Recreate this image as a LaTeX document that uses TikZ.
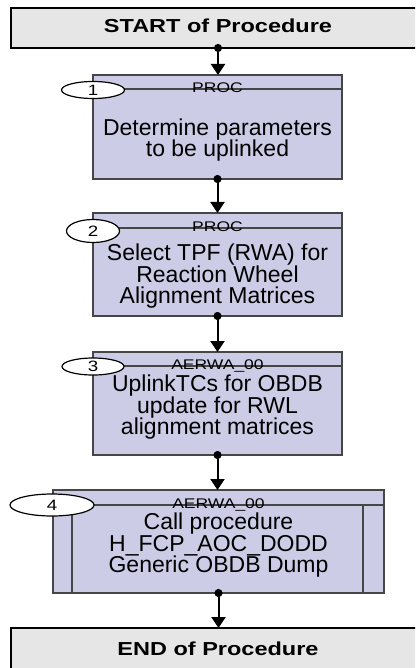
\documentclass[tikz,border=0pt]{standalone}
\usepackage{fontspec}
\setmainfont{Liberation Sans}
\newfontfamily\widefont{Liberation Sans}[FakeStretch=1.25]
\usetikzlibrary{shapes.geometric,arrows.meta,positioning}
\definecolor{procfill}{RGB}{204,204,230}
\definecolor{endfill}{RGB}{230,230,230}
\definecolor{procline}{RGB}{70,70,70}
\newcommand\stepfont{\fontsize{23}{21.5}\selectfont\setlength{\lineskiplimit}{-20pt}}

\begin{document}
\begin{tikzpicture}[x=1pt, y=-1pt,
	endbox/.style = {draw=black, line width=1.5pt, fill=endfill, minimum width=414pt, inner sep=0pt, outer sep=0pt},
	procbox/.style = {draw=procline, line width=1.2pt, fill=procfill, minimum width=249pt, minimum height=103pt, inner sep=0pt, outer sep=0pt},
	numoval/.style = {ellipse, draw=black, line width=1.2pt, fill=white, inner sep=0pt, font=\widefont\fontsize{15}{16}\selectfont},
	hdr/.style = {anchor=base, inner sep=0pt, font=\widefont\fontsize{14}{15}\selectfont},
	bodytext/.style = {align=center, inner sep=0pt, font=\stepfont},
	titletext/.style = {anchor=base, inner sep=0pt, font=\widefont\bfseries\fontsize{18.8}{20}\selectfont},
	flow/.style = {line width=2pt, {Circle[length=8pt]}-{Triangle[length=11pt,width=14pt]}, shorten <=-4pt}]
	\useasboundingbox (0,0) rectangle (415,668);
	\clip (0,0) rectangle (415,668);
	% start and end
	\node[endbox, minimum height=40pt] (start) at (218,28) {};
	\node[titletext] (starttxt) at (218,32.5) {START of Procedure};
	\node[endbox, minimum height=44pt] (end) at (218,650) {};
	\node[titletext] (endtxt) at (218,655) {END of Procedure};
	% steps
	\node[procbox, minimum height=104pt] (p1) at (217.5,127) {};
	\node[procbox] (p2) at (217.5,264.5) {};
	\node[procbox] (p3) at (217.5,403.5) {};
	\node[procbox, minimum width=331pt] (p4) at (218.5,541.5) {};
	\coordinate (h1) at ([yshift=-14pt]p1.north west);
	\coordinate (h2) at ([yshift=-15pt]p2.north west);
	\coordinate (h3) at ([yshift=-14pt]p3.north west);
	\coordinate (h4) at ([yshift=-15pt]p4.north west);
	\draw[procline, line width=1.2pt] (h1) -- (h1 -| p1.east);
	\draw[procline, line width=1.2pt] (h2) -- (h2 -| p2.east);
	\draw[procline, line width=1.2pt] (h3) -- (h3 -| p3.east);
	\draw[procline, line width=1.2pt] (h4) -- (h4 -| p4.east);
	\draw[procline, line width=1.2pt] ([xshift=19pt]h4) -- ([xshift=19pt]h4 |- p4.south);
	\draw[procline, line width=1.2pt] ([xshift=-21pt]h4 -| p4.east) -- ([xshift=-21pt]p4.south east);
	\node[hdr] (hd1) at ([yshift=-3.5pt]h1 -| p1.center) {PROC};
	\node[hdr] (hd2) at ([yshift=-3.5pt]h2 -| p2.center) {PROC};
	\node[hdr] (hd3) at ([yshift=-3pt]h3 -| p3.center) {AERWA\_00};
	\node[hdr] (hd4) at ([yshift=-3pt]h4 -| p4.center) {AERWA\_00};
	\node[bodytext] (t1) at (217.5,140) {Determine parameters\\to be uplinked};
	\node[bodytext] (t2) at (217.5,276.5) {Select TPF (RWA) for\\Reaction Wheel\\Alignment Matrices};
	\node[bodytext] (t3) at (217.5,407.5) {UplinkTCs for OBDB\\update for RWL\\alignment matrices};
	\node[bodytext] (t4) at (218.5,545.5) {Call procedure\\H\_FCP\_AOC\_DODD\\Generic OBDB Dump};
	% step numbers
	\node[numoval, minimum width=63pt, minimum height=17pt] (n1) at ([yshift=-1pt]h1) {1};
	\node[numoval, minimum width=53pt, minimum height=23pt] (n2) at ([yshift=-3pt]h2) {2};
	\node[numoval, minimum width=62pt, minimum height=17pt] (n3) at ([yshift=-0.5pt]h3) {3};
	\node[numoval, minimum width=84pt, minimum height=22pt] (n4) at ([xshift=-1pt]h4) {4};
	% flow
	\draw[flow] (start.south) -- (start.south |- p1.north);
	\draw[flow] (p1.south) -- (p2.north);
	\draw[flow] (p2.south) -- (p3.north);
	\draw[flow] (p3.south) -- (p3.south |- p4.north);
	\draw[flow] (p4.south) -- (p4.south |- end.north);
\end{tikzpicture}
\end{document}
